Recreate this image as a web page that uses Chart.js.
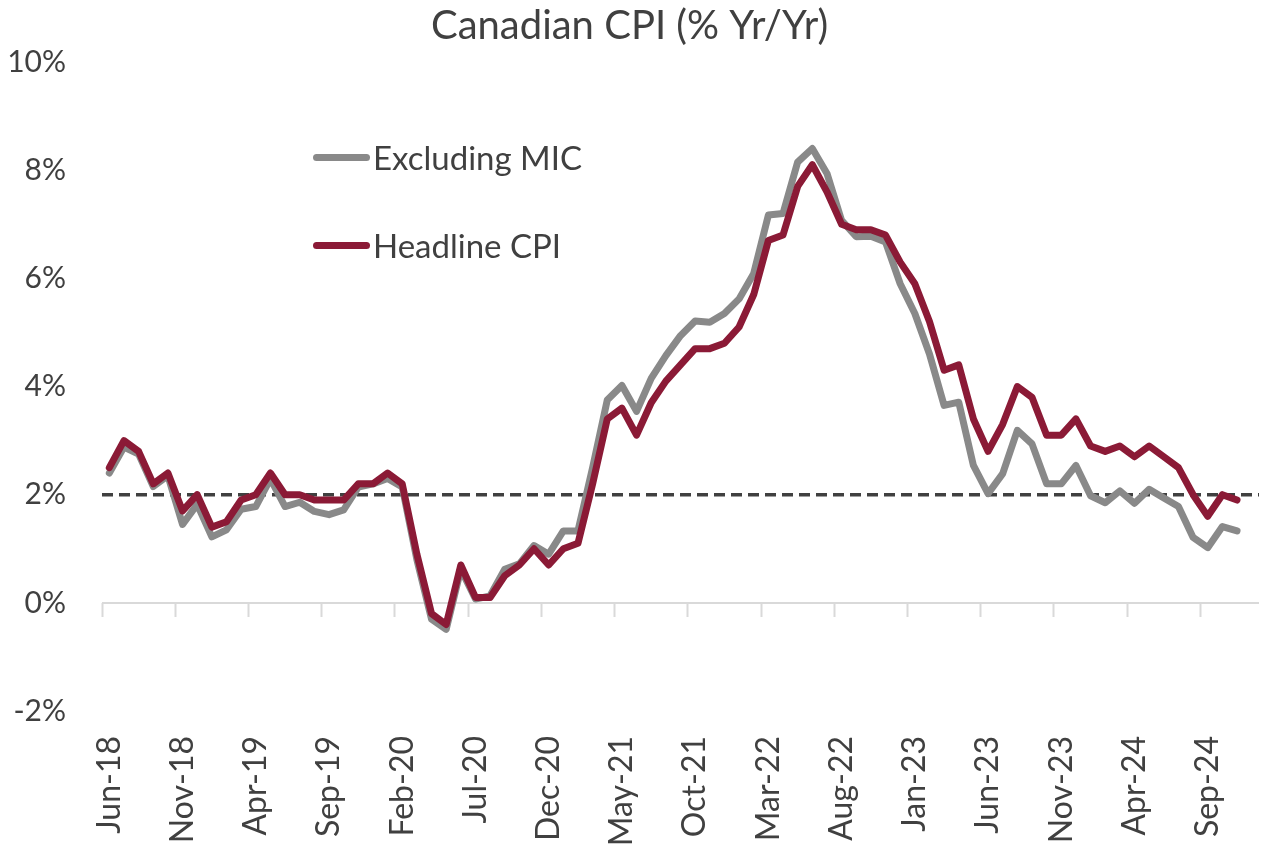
<!DOCTYPE html>
<html>
<head>
<meta charset="utf-8">
<script src="https://cdn.jsdelivr.net/npm/chart.js@4.4.1/dist/chart.umd.min.js"></script>
<style>
  html, body { margin: 0; padding: 0; background: #ffffff; }
  #wrap { position: relative; width: 1273px; height: 846px; }
  #legend { position: absolute; left: 313px; top: 0; font-family: Lato, "Open Sans", sans-serif; font-size: 33px; color: #404040; }
  .item { position: absolute; left: 0; display: flex; align-items: center; white-space: nowrap; height: 40px; }
  .swatch { width: 57px; height: 7px; border-radius: 3.5px; margin-right: 3px; }
</style>
</head>
<body>
<div id="wrap">
  <canvas id="c" width="1273" height="846"></canvas>
  <div id="legend"></div>
</div>
<script>
const categories = [
  'Jun-18','Jul-18','Aug-18','Sep-18','Oct-18','Nov-18','Dec-18',
  'Jan-19','Feb-19','Mar-19','Apr-19','May-19','Jun-19','Jul-19','Aug-19','Sep-19','Oct-19','Nov-19','Dec-19',
  'Jan-20','Feb-20','Mar-20','Apr-20','May-20','Jun-20','Jul-20','Aug-20','Sep-20','Oct-20','Nov-20','Dec-20',
  'Jan-21','Feb-21','Mar-21','Apr-21','May-21','Jun-21','Jul-21','Aug-21','Sep-21','Oct-21','Nov-21','Dec-21',
  'Jan-22','Feb-22','Mar-22','Apr-22','May-22','Jun-22','Jul-22','Aug-22','Sep-22','Oct-22','Nov-22','Dec-22',
  'Jan-23','Feb-23','Mar-23','Apr-23','May-23','Jun-23','Jul-23','Aug-23','Sep-23','Oct-23','Nov-23','Dec-23',
  'Jan-24','Feb-24','Mar-24','Apr-24','May-24','Jun-24','Jul-24','Aug-24','Sep-24','Oct-24','Nov-24','Dec-24'
];

const excludingMIC = [
  2.40, 2.88, 2.75, 2.15, 2.35, 1.45, 1.82,
  1.22, 1.35, 1.73, 1.78, 2.29, 1.78, 1.86, 1.69, 1.63, 1.72, 2.14, 2.20,
  2.30, 2.14, 0.80, -0.30, -0.49, 0.62, 0.07, 0.13, 0.62, 0.72, 1.06, 0.90,
  1.33, 1.33, 2.50, 3.75, 4.02, 3.54, 4.15, 4.57, 4.94, 5.21, 5.19, 5.35,
  5.62, 6.09, 7.17, 7.20, 8.15, 8.40, 7.94, 7.07, 6.77, 6.78, 6.67, 5.90,
  5.35, 4.60, 3.65, 3.71, 2.54, 2.02, 2.39, 3.19, 2.94, 2.20, 2.20, 2.54,
  1.98, 1.85, 2.07, 1.84, 2.10, 1.94, 1.78, 1.21, 1.02, 1.41, 1.33, null
];

const headlineCPI = [
  2.5, 3.0, 2.8, 2.2, 2.4, 1.7, 2.0,
  1.4, 1.5, 1.9, 2.0, 2.4, 2.0, 2.0, 1.9, 1.9, 1.9, 2.2, 2.2,
  2.4, 2.2, 0.9, -0.2, -0.4, 0.7, 0.1, 0.1, 0.5, 0.7, 1.0, 0.7,
  1.0, 1.1, 2.2, 3.4, 3.6, 3.1, 3.7, 4.1, 4.4, 4.7, 4.7, 4.8,
  5.1, 5.7, 6.7, 6.8, 7.7, 8.1, 7.6, 7.0, 6.9, 6.9, 6.8, 6.3,
  5.9, 5.2, 4.3, 4.4, 3.4, 2.8, 3.3, 4.0, 3.8, 3.1, 3.1, 3.4,
  2.9, 2.8, 2.9, 2.7, 2.9, 2.7, 2.5, 2.0, 1.6, 2.0, 1.9, null
];

const yTicks = [-2, 0, 2, 4, 6, 8, 10];
const targetLevel = 2;
const labelEvery = 5;

const seriesNames = ['Excluding MIC', 'Headline CPI'];
const seriesColors = ['#898989', '#8B1A36'];

const FONT = 'Lato, "Open Sans", sans-serif';
const TEXT = '#404040';

const noSidePadding = (scale) => { scale.paddingLeft = 0; scale.paddingRight = 0; };

const chart = new Chart(document.getElementById('c'), {
  type: 'line',
  data: {
    labels: categories,
    datasets: [
      {
        label: seriesNames[0], data: excludingMIC, borderColor: seriesColors[0],
        borderWidth: 7, pointRadius: 0, tension: 0, order: 1,
        borderJoinStyle: 'round', borderCapStyle: 'round', fill: false
      },
      {
        label: seriesNames[1], data: headlineCPI, borderColor: seriesColors[1],
        borderWidth: 7, pointRadius: 0, tension: 0, order: 0,
        borderJoinStyle: 'round', borderCapStyle: 'round', fill: false
      }
    ]
  },
  options: {
    responsive: false,
    animation: false,
    events: [],
    layout: { padding: { left: 0, right: 14, top: 0, bottom: 0 } },
    plugins: {
      legend: { display: false },
      tooltip: { enabled: false },
      title: {
        display: true,
        text: 'Canadian CPI (% Yr/Yr)',
        color: TEXT,
        font: { family: FONT, size: 40, weight: 'normal', lineHeight: 1.2 },
        padding: { top: 2, bottom: 12 }
      }
    },
    scales: {
      x: {
        type: 'category',
        position: 'bottom',
        offset: true,
        grid: { display: false, drawTicks: false, offset: true },
        border: { display: false },
        ticks: {
          autoSkip: false,
          maxRotation: 90,
          minRotation: 90,
          padding: 25,
          color: TEXT,
          font: { family: FONT, size: 32 },
          callback: function(value, index) {
            return index % labelEvery === 0 ? this.getLabelForValue(value) : '';
          }
        },
        afterFit: (scale) => { scale.height = 135; noSidePadding(scale); }
      },
      xt: {
        type: 'category',
        position: { y: 0 },
        offset: true,
        grid: {
          offset: true,
          drawOnChartArea: false,
          drawTicks: true,
          tickLength: 14,
          tickWidth: 2,
          tickColor: (ctx) => (ctx.index !== undefined && ctx.index % labelEvery === 0) ? '#d9d9d9' : 'rgba(0,0,0,0)'
        },
        border: { display: false },
        ticks: { display: false, autoSkip: false },
        afterFit: noSidePadding
      },
      y: {
        type: 'linear',
        min: yTicks[0],
        max: yTicks[yTicks.length - 1],
        afterBuildTicks: (scale) => { scale.ticks = yTicks.map(v => ({ value: v })); },
        grid: {
          drawTicks: false,
          lineWidth: (ctx) => ctx.tick && ctx.tick.value === 0 ? 2 : (ctx.tick && ctx.tick.value === targetLevel ? 3.5 : 0),
          color: (ctx) => ctx.tick && ctx.tick.value === targetLevel ? '#404040' : '#d9d9d9'
        },
        border: {
          display: false,
          dash: (ctx) => ctx.tick && ctx.tick.value === targetLevel ? [11, 6] : []
        },
        ticks: {
          padding: 36,
          color: TEXT,
          font: { family: FONT, size: 30 },
          callback: (v) => v + '%'
        },
        afterFit: (scale) => { scale.width = 102; }
      }
    }
  }
});

// HTML legend, positioned inside plot area
const legend = document.getElementById('legend');
const legendRows = [157, 245];
seriesNames.forEach((name, i) => {
  const row = document.createElement('div');
  row.className = 'item';
  row.style.top = (legendRows[i] - 20) + 'px';
  const sw = document.createElement('span');
  sw.className = 'swatch';
  sw.style.background = seriesColors[i];
  const tx = document.createElement('span');
  tx.textContent = name;
  row.appendChild(sw);
  row.appendChild(tx);
  legend.appendChild(row);
});
</script>
</body>
</html>
